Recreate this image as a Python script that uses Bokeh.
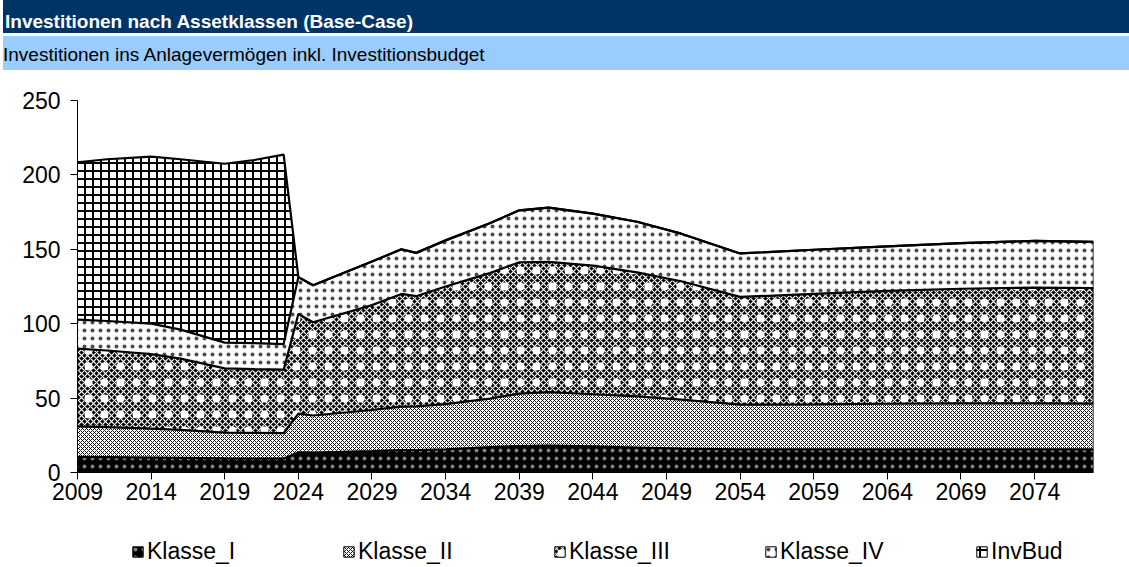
import numpy as np
from bokeh.plotting import figure
from bokeh.models import Range1d, FixedTicker, Legend, LegendItem, Div
from bokeh.layouts import column
from bokeh.embed import file_html
from bokeh.resources import INLINE

# ---------------- data ----------------
years = [2009, 2011, 2014, 2016, 2019, 2021, 2023, 2024, 2025, 2029, 2031, 2032,
         2034, 2037, 2039, 2041, 2044, 2047, 2050, 2054, 2059, 2064, 2069, 2074, 2078]
klasse_i = [10.5, 10.3, 10.0, 9.8, 9.5, 9.4, 9.4, 13.5, 13.3, 14.3, 15.0, 15.0,
            15.6, 17.0, 17.8, 18.0, 17.6, 16.8, 16.0, 15.6, 15.5, 15.5, 15.5, 15.5, 15.5]
klasse_ii = [20.5, 20.2, 19.5, 18.8, 17.3, 17.2, 17.0, 26.1, 25.0, 27.7, 29.3, 29.5,
             30.4, 32.7, 35.2, 36.0, 35.0, 34.4, 33.0, 30.0, 30.3, 30.7, 31.0, 31.0, 30.8]
klasse_iii = [52.2, 51.5, 50.0, 47.9, 43.2, 42.9, 42.7, 66.9, 62.7, 70.5, 75.7, 74.0,
              79.0, 84.3, 88.3, 87.5, 86.4, 83.3, 79.5, 72.4, 74.2, 75.8, 77.0, 77.8, 77.7]
klasse_iv = [19.6, 19.8, 20.5, 19.5, 17.3, 17.5, 17.2, 24.8, 24.8, 29.3, 30.0, 29.1,
             31.0, 33.5, 34.9, 36.5, 35.0, 34.0, 32.0, 29.2, 29.7, 30.0, 30.7, 31.3, 31.0]
invbud = [105.7, 108.7, 112.3, 114.5, 120.2, 123.0, 127.3, 0, 0, 0, 0, 0,
          0, 0, 0, 0, 0, 0, 0, 0, 0, 0, 0, 0, 0]
series_names = ["Klasse_I", "Klasse_II", "Klasse_III", "Klasse_IV", "InvBud"]
x_ticks = [2009, 2014, 2019, 2024, 2029, 2034, 2039, 2044, 2049, 2054, 2059, 2064, 2069, 2074]
x_tick_labels = ["2009", "2014", "2019", "2024", "2029", "2034", "2039", "2044", "2049",
                 "2054", "2059", "2064", "2069", "2074"]
y_ticks = [0, 50, 100, 150, 200, 250]
y_tick_labels = ["0", "50", "100", "150", "200", "250"]
title_text = "Investitionen nach Assetklassen (Base-Case)"
subtitle_text = "Investitionen ins Anlagevermögen inkl. Investitionsbudget"

# ---------------- styles ----------------
FONT = "Liberation Sans"
W = 1129
HEAD_H, MAIN_H, FOOT_H = 70, 445, 52
BL, BR, BT, BB = 77, 36, 30, 43

# pattern fills (layers drawn on top of each other for one series)
area_layers = {
    "Klasse_I": [dict(fill_color="#000000", hatch_pattern="dot", hatch_color="white",
                      hatch_scale=8, hatch_alpha=0.5)],
    "Klasse_II": [dict(fill_color="white", hatch_pattern="diagonal_cross", hatch_color="black",
                       hatch_scale=4, hatch_weight=0.9)],
    "Klasse_III": [dict(fill_color="black", hatch_pattern="diagonal_cross", hatch_color="white",
                        hatch_scale=6, hatch_weight=1.2),
                   dict(fill_alpha=0, hatch_pattern="dot", hatch_color="white",
                        hatch_scale=16, hatch_alpha=1.0)],
    "Klasse_IV": [dict(fill_color="white", hatch_pattern="dot", hatch_color="black",
                       hatch_scale=8, hatch_alpha=0.7)],
    "InvBud": [dict(fill_color="white", hatch_pattern="cross", hatch_color="black",
                    hatch_scale=8, hatch_weight=2)],
}

# ---------------- header (two coloured bars) ----------------
head_html = (
    f'<div style="position:relative;width:{W}px;height:{HEAD_H}px;margin:0;padding:0;">'
    f'<div style="position:absolute;left:3px;top:0px;width:{W - 3}px;height:33px;background:#003366;"></div>'
    f'<div style="position:absolute;left:3px;top:36px;width:{W - 3}px;height:34px;background:#99ccff;"></div>'
    f'<div style="position:absolute;left:5px;top:12px;font-family:\'{FONT}\';font-size:19px;'
    f'font-weight:bold;line-height:19px;color:#ffffff;white-space:nowrap;">{title_text}</div>'
    f'<div style="position:absolute;left:3px;top:45px;font-family:\'{FONT}\';font-size:19px;'
    f'font-weight:normal;line-height:19px;color:#000000;white-space:nowrap;">{subtitle_text}</div>'
    f'</div>'
)
head = Div(text=head_html, width=W, height=HEAD_H, margin=0)

# ---------------- main chart ----------------
p = figure(width=W, height=MAIN_H, x_range=Range1d(2009, 2078), y_range=Range1d(0, 250),
           output_backend="svg", toolbar_location=None,
           min_border_left=BL, min_border_right=BR, min_border_top=BT, min_border_bottom=BB,
           background_fill_color="white", border_fill_color="white")
p.outline_line_color = None
p.grid.visible = False

stack = np.vstack([klasse_i, klasse_ii, klasse_iii, klasse_iv, invbud])
tops = np.cumsum(stack, axis=0)
bottoms = tops - stack

for k, name in enumerate(series_names):
    for layer in area_layers[name]:
        p.varea(x=years, y1=bottoms[k], y2=tops[k], **layer)

for k in range(len(series_names)):
    p.line(x=years, y=tops[k], line_color="black", line_width=2.2)
p.line(x=[years[-1], years[-1]], y=[bottoms[0][-1], tops[-1][-1]], line_color="black", line_width=1.5)

p.xaxis.ticker = FixedTicker(ticks=x_ticks)
p.xaxis.major_label_overrides = {t: l for t, l in zip(x_ticks, x_tick_labels)}
p.yaxis.ticker = FixedTicker(ticks=y_ticks)
p.yaxis.major_label_overrides = {t: l for t, l in zip(y_ticks, y_tick_labels)}
for ax in (p.xaxis[0], p.yaxis[0]):
    ax.axis_line_color = "black"
    ax.axis_line_width = 1
    ax.major_tick_line_color = "black"
    ax.major_tick_out = 7
    ax.major_tick_in = 0
    ax.minor_tick_line_color = None
    ax.major_label_text_font = FONT
    ax.major_label_text_font_size = "23px"
    ax.major_label_text_color = "black"
p.xaxis[0].major_label_standoff = 3
p.yaxis[0].major_label_standoff = 10

# ---------------- legend strip (same series styles; its view range hides the areas) ----------------
foot = figure(width=W, height=FOOT_H, x_range=Range1d(0, 1), y_range=Range1d(0, 1),
              x_axis_type=None, y_axis_type=None, toolbar_location=None,
              min_border_left=BL, min_border_right=BR, min_border_top=0, min_border_bottom=0,
              output_backend="svg", background_fill_color="white", border_fill_color="white")
foot.outline_line_color = None
foot.grid.visible = False
outline = foot.quad(left=[years[0]], right=[years[-1]], bottom=[bottoms[0][0]], top=[tops[-1][0]],
                    fill_alpha=0, line_color="black", line_width=1)
items = []
for k, name in enumerate(series_names):
    rs = [foot.varea(x=years, y1=bottoms[k], y2=tops[k], **layer) for layer in area_layers[name]]
    items.append(LegendItem(label=name, renderers=rs + [outline]))
legend = Legend(items=items, orientation="horizontal", location=(54, 2),
                glyph_width=13, glyph_height=13, label_standoff=3, label_width=120,
                spacing=75, padding=0, margin=0, border_line_color=None,
                background_fill_alpha=0, label_text_font=FONT, label_text_font_size="23px",
                label_text_color="black")
foot.add_layout(legend, "center")

layout = column(head, p, foot, spacing=0)
open("out.html", "w").write(file_html(layout, INLINE))
